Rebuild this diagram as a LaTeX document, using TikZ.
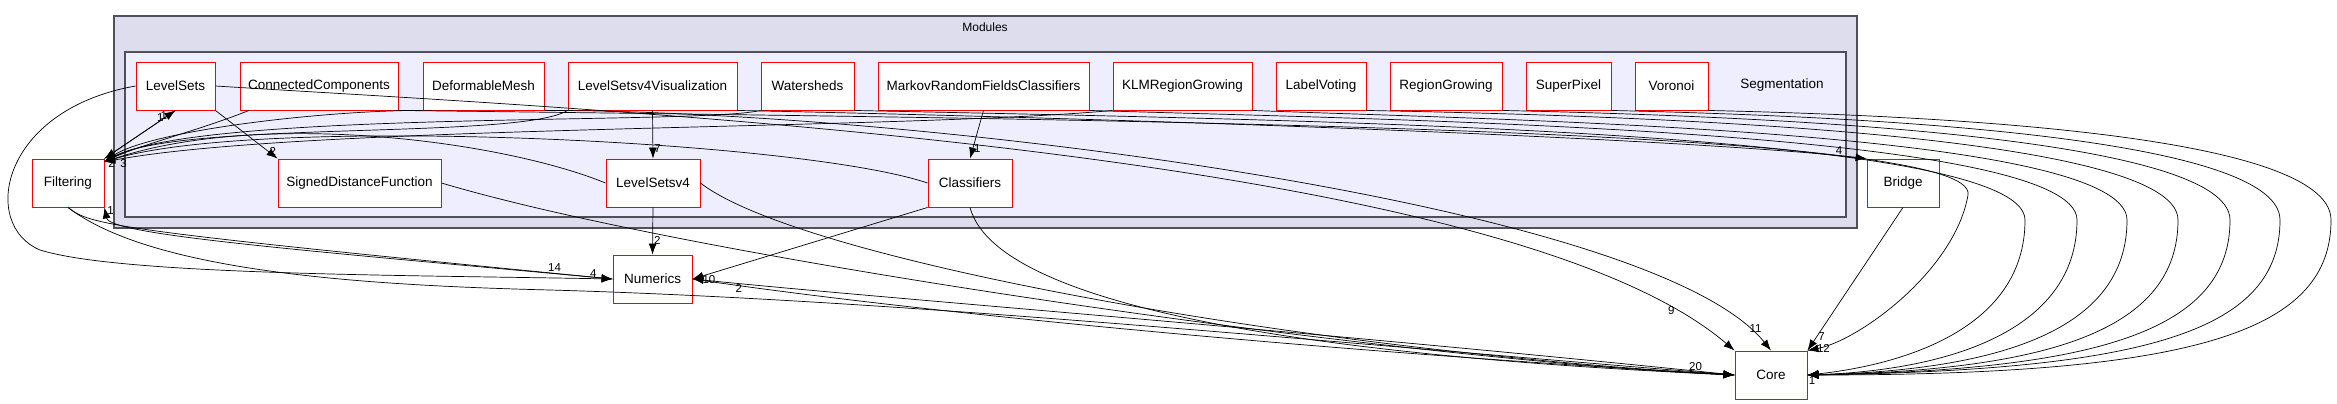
\documentclass[tikz,border=0pt]{standalone}
\usepackage{fontspec}
\setmainfont{Liberation Sans}
\usetikzlibrary{arrows.meta}
\begin{document}
\begin{tikzpicture}[x=1pt,y=-1pt,
  dir/.style={draw=red,line width=0.9pt,fill=white,minimum height=48pt,inner sep=0pt,font=\fontsize{13.5}{13.5}\selectfont},
  dep/.style={draw=black,line width=0.7pt,-{Latex[length=11pt,width=8pt]}},
  lbl/.style={font=\fontsize{11.5}{11.5}\selectfont,inner sep=1pt}]
\useasboundingbox (0,0) rectangle (2337,404);
\fill[white] (0,0) rectangle (2337,404);
\draw[fill={rgb,255:red,221;green,221;blue,238},draw={rgb,255:red,80;green,80;blue,90},line width=1.2pt] (114,16) rectangle (1857,228);
\node[font=\fontsize{12}{12}\selectfont] (modl) at (985,27) {Modules};
\draw[fill={rgb,255:red,238;green,238;blue,255},draw={rgb,255:red,80;green,80;blue,90},line width=1.2pt] (125,52) rectangle (1846,217);
\node[font=\fontsize{13.5}{13.5}\selectfont] (segl) at (1782,85) {Segmentation};
% nodes
\node[dir,minimum width=79pt] (LS) at (175.5,86) {LevelSets};
\node[dir,minimum width=158pt] (CC) at (319,86) {ConnectedComponents};
\node[dir,minimum width=121pt] (DM) at (483.5,86) {DeformableMesh};
\node[dir,minimum width=169pt] (LSV) at (652.5,86) {LevelSetsv4Visualization};
\node[dir,minimum width=93pt] (WS) at (807.5,86) {Watersheds};
\node[dir,minimum width=211pt] (MRF) at (983.5,86) {MarkovRandomFieldsClassifiers};
\node[dir,minimum width=139pt] (KLM) at (1182.5,86) {KLMRegionGrowing};
\node[dir,minimum width=90pt] (LV) at (1321,86) {LabelVoting};
\node[dir,minimum width=112pt] (RG) at (1446,86) {RegionGrowing};
\node[dir,minimum width=85pt] (SP) at (1568.5,86) {SuperPixel};
\node[dir,minimum width=73pt] (VO) at (1671.5,86) {Voronoi};
\node[dir,minimum width=72pt] (FI) at (68,183) {Filtering};
\node[dir,minimum width=163pt] (SDF) at (359.5,183) {SignedDistanceFunction};
\node[dir,minimum width=94pt] (LS4) at (653,183) {LevelSetsv4};
\node[dir,minimum width=84pt] (CL) at (970,183) {Classifiers};
\node[dir,minimum width=72pt] (BR) at (1903,183) {Bridge};
\node[dir,minimum width=79pt] (NU) at (652.5,279) {Numerics};
\node[dir,minimum width=72pt] (CO) at (1771,375) {Core};
\coordinate (fiT) at (104,162);
% edges into Filtering
\draw[dep] (LS.south) -- (FI.north east) node[lbl,pos=0.1,left] {1};
\draw[dep] (FI.north east) -- (LS.south) node[lbl,pos=0.85,left] {1};
\draw[dep] (CC.south) ++(-70,0) .. controls (200,130) and (140,145) .. (fiT);
\draw[dep] (DM.south west) .. controls (330,110) and (150,130) .. (fiT);
\draw[dep] (LSV.south west) .. controls (520,140) and (180,120) .. (fiT) node[lbl,pos=0.97,below] {2};
\draw[dep] (WS.south west) .. controls (700,125) and (200,110) .. (fiT);
\draw[dep] (LS4.west) .. controls (500,140) and (260,110) .. (fiT);
\draw[dep] (CL.west) .. controls (800,140) and (260,115) .. (fiT) node[lbl,pos=0.97,below right] {3};
\draw[dep] (KLM.south west) .. controls (900,130) and (300,125) .. (fiT);
% internal
\draw[dep] (LS.south east) -- (SDF.north west) node[lbl,pos=0.85,right] {2};
\draw[dep] (LSV.south) -- (LS4.north) node[lbl,pos=0.8,right] {7};
\draw[dep] (MRF.south) -- (CL.north) node[lbl,pos=0.8,right] {1};
\draw[dep] (LSV.south east) .. controls (1200,120) and (1700,140) .. (BR.north west) node[lbl,pos=0.95,above] {4};
% Numerics
\draw[dep] (LS4.south) -- (NU.north) node[lbl,pos=0.7,right] {2};
\draw[dep] (CL.south west) -- (NU.east) node[lbl,pos=0.93,below] {10};
\draw[dep] (LS.west) .. controls (0,110) and (-20,225) .. (40,250) .. controls (120,275) and (400,275) .. (NU.west) node[lbl,pos=0.97,above] {4};
\draw[dep] (FI.south) .. controls (90,225) and (110,230) .. (NU.west) node[lbl,pos=0.96,above] {14};
\draw[dep] (NU.west) .. controls (300,250) and (110,235) .. (FI.south east) node[lbl,pos=0.96,right] {1};
\draw[dep] (CO.west) .. controls (1300,330) and (900,300) .. (NU.east) node[lbl,pos=0.93,below] {2};
% Core
\draw[dep] (NU.east) .. controls (900,310) and (1300,350) .. (CO.west);
\draw[dep] (FI.south) .. controls (150,270) and (350,285) .. (550,290) .. controls (900,300) and (1300,340) .. (CO.west) node[lbl,pos=0.97,above] {20};
\draw[dep] (SDF.east) .. controls (700,260) and (1400,360) .. (CO.west);
\draw[dep] (LS4.east) .. controls (800,260) and (1300,350) .. (CO.west);
\draw[dep] (CL.south) .. controls (1000,320) and (1400,360) .. (CO.west);
\draw[dep] (LS.east) .. controls (600,110) and (1500,150) .. (CO.north west) node[lbl,pos=0.93,left] {9};
\draw[dep] (DM.south east) .. controls (900,110) and (1650,200) .. (CO.north) node[lbl,pos=0.95,right] {11};
\draw[dep] (BR.south) -- (CO.north east) node[lbl,pos=0.9,right] {7};
\draw[dep] (CC.south east) .. controls (1200,120) and (1980,130) .. (1968,195) .. controls (1955,270) and (1860,340) .. (CO.north east) node[lbl,pos=0.95,right] {12};
\draw[dep] (WS.south east) .. controls (1300,120) and (2025,130) .. (2025,220) .. controls (2025,330) and (1900,365) .. (CO.east);
\draw[dep] (MRF.south east) .. controls (1400,120) and (2077,130) .. (2077,220) .. controls (2077,330) and (1950,370) .. (CO.east);
\draw[dep] (KLM.south east) .. controls (1500,120) and (2127,130) .. (2127,220) .. controls (2127,330) and (2000,370) .. (CO.east);
\draw[dep] (LV.south east) .. controls (1600,115) and (2178,130) .. (2178,220) .. controls (2178,330) and (2050,370) .. (CO.east);
\draw[dep] (RG.south east) .. controls (1700,115) and (2230,130) .. (2230,220) .. controls (2230,330) and (2100,370) .. (CO.east);
\draw[dep] (SP.south east) .. controls (1800,115) and (2280,130) .. (2280,220) .. controls (2280,330) and (2150,370) .. (CO.east);
\draw[dep] (VO.south east) .. controls (1900,115) and (2331,130) .. (2331,220) .. controls (2331,330) and (2200,375) .. (CO.east) node[lbl,pos=1,below right] {1};
\end{tikzpicture}
\end{document}
